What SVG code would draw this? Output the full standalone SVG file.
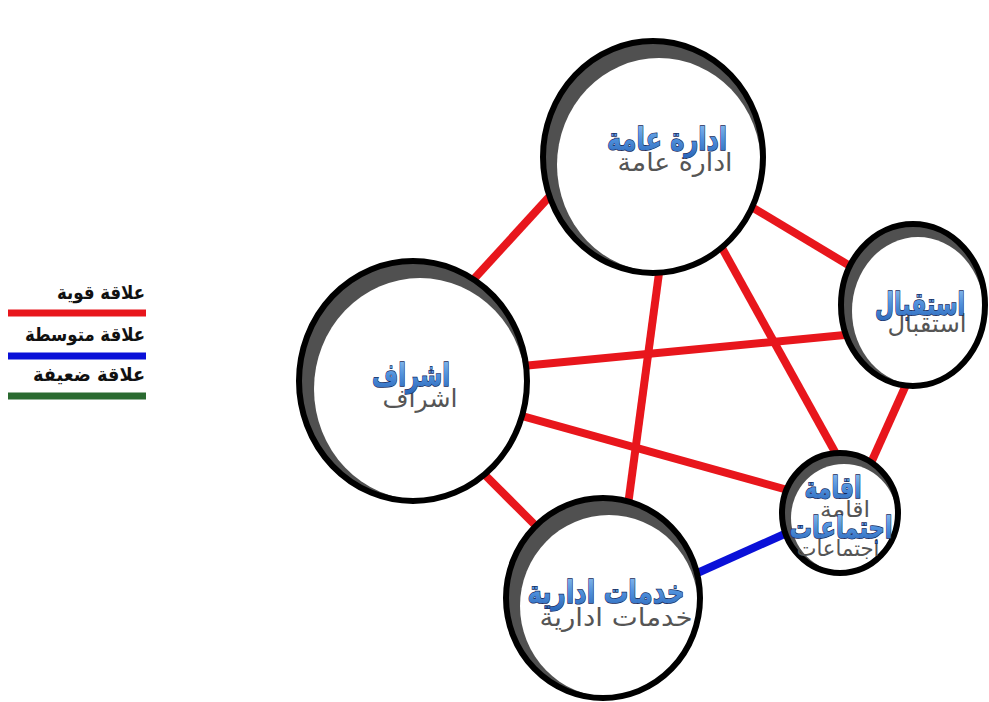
<svg xmlns="http://www.w3.org/2000/svg" width="989" height="702" viewBox="0 0 989 702">
  <defs>
    <linearGradient id="blueText" x1="0" y1="0" x2="0" y2="1">
      <stop offset="0" stop-color="#8fc0f0"/>
      <stop offset="0.5" stop-color="#4f90dc"/>
      <stop offset="1" stop-color="#2a66b8"/>
    </linearGradient>
  </defs>
  <style>
    .bg { fill: #ffffff; }
    .crescent { fill: #505050; }
    .face { fill: #ffffff; }
    .ring { fill: none; stroke: #000000; stroke-width: 6; }
    .strong { stroke: #e8161c; stroke-width: 8; stroke-linecap: butt; }
    .medium { stroke: #0a10d8; stroke-width: 8; stroke-linecap: butt; }
    .label { font-family: "DejaVu Sans", sans-serif; font-weight: bold; fill: url(#blueText); stroke: #14285a; stroke-width: 1.4; paint-order: stroke; text-anchor: middle; }
    .shadow { font-family: "DejaVu Sans", sans-serif; font-weight: normal; fill: #555555; text-anchor: middle; }
    .legend { font-family: "DejaVu Sans", sans-serif; font-weight: bold; font-size: 19px; fill: #111111; text-anchor: end; }
  </style>
  <rect class="bg" x="0" y="0" width="989" height="702"/>

  <g id="legend">
    <text class="legend" x="145" y="299" textLength="88" lengthAdjust="spacingAndGlyphs">علاقة قوية</text>
    <rect x="8" y="309.500" width="138" height="7" fill="#e8161c"/>
    <text class="legend" x="145" y="341" textLength="120" lengthAdjust="spacingAndGlyphs">علاقة متوسطة</text>
    <rect x="8" y="352.500" width="138" height="7" fill="#0a10d8"/>
    <text class="legend" x="145" y="381" textLength="112" lengthAdjust="spacingAndGlyphs">علاقة ضعيفة</text>
    <rect x="8" y="392.500" width="138" height="7" fill="#2a6a30"/>
  </g>

  <g id="connectors">
    <line class="strong" x1="560" y1="185" x2="462" y2="292"/>
    <line class="strong" x1="750" y1="206" x2="860" y2="272"/>
    <line class="strong" x1="661" y1="258" x2="626" y2="520"/>
    <line class="strong" x1="722" y1="248" x2="845" y2="470"/>
    <line class="strong" x1="512" y1="367" x2="855" y2="334"/>
    <line class="strong" x1="910" y1="376" x2="866" y2="474"/>
    <line class="strong" x1="508" y1="412" x2="802" y2="494"/>
    <line class="strong" x1="472" y1="462" x2="552" y2="542"/>
    <line class="medium" x1="684" y1="579" x2="798" y2="528"/>
  </g>

  <g id="node-idara-amma">
    <ellipse class="crescent" cx="653" cy="157" rx="110" ry="116"/>
    <ellipse class="face" cx="659" cy="165" rx="102" ry="107"/>
    <ellipse class="ring" cx="653" cy="157" rx="110" ry="116"/>
    <text class="shadow" x="675" y="171" font-size="25" textLength="115" lengthAdjust="spacingAndGlyphs">ادارة عامة</text>
    <text class="label" x="667" y="150" font-size="32" textLength="120" lengthAdjust="spacingAndGlyphs">ادارة عامة</text>
  </g>

  <g id="node-istiqbal">
    <ellipse class="crescent" cx="913" cy="305" rx="72" ry="81"/>
    <ellipse class="face" cx="918" cy="311" rx="66" ry="74"/>
    <ellipse class="ring" cx="913" cy="305" rx="72" ry="81"/>
    <text class="shadow" x="927" y="332" font-size="25" textLength="79" lengthAdjust="spacingAndGlyphs">استقبال</text>
    <text class="label" x="920" y="315" font-size="32" textLength="90" lengthAdjust="spacingAndGlyphs">استقبال</text>
  </g>

  <g id="node-ishraf">
    <ellipse class="crescent" cx="413" cy="381" rx="114" ry="120"/>
    <ellipse class="face" cx="420" cy="389" rx="106" ry="111"/>
    <ellipse class="ring" cx="413" cy="381" rx="114" ry="120"/>
    <text class="shadow" x="420" y="407" font-size="25" textLength="75" lengthAdjust="spacingAndGlyphs">اشراف</text>
    <text class="label" x="411" y="386" font-size="32" textLength="78" lengthAdjust="spacingAndGlyphs">اشراف</text>
  </g>

  <g id="node-iqamat-ijtimaat">
    <ellipse class="crescent" cx="840" cy="513" rx="58" ry="60"/>
    <ellipse class="face" cx="844" cy="518" rx="53" ry="54"/>
    <ellipse class="ring" cx="840" cy="513" rx="58" ry="60"/>
    <text class="shadow" x="845" y="517" font-size="22" textLength="50" lengthAdjust="spacingAndGlyphs">اقامة</text>
    <text class="shadow" x="838" y="556" font-size="22" textLength="83" lengthAdjust="spacingAndGlyphs">اجتماعات</text>
    <text class="label" x="833" y="498" font-size="30" textLength="57" lengthAdjust="spacingAndGlyphs">اقامة</text>
    <text class="label" x="841" y="538" font-size="30" textLength="103" lengthAdjust="spacingAndGlyphs">اجتماعات</text>
  </g>

  <g id="node-khadamat-idariya">
    <ellipse class="crescent" cx="603" cy="598" rx="97" ry="100"/>
    <ellipse class="face" cx="609" cy="606" rx="89" ry="91"/>
    <ellipse class="ring" cx="603" cy="598" rx="97" ry="100"/>
    <text class="shadow" x="616" y="626" font-size="25" textLength="153" lengthAdjust="spacingAndGlyphs">خدمات ادارية</text>
    <text class="label" x="606" y="603" font-size="32" textLength="157" lengthAdjust="spacingAndGlyphs">خدمات ادارية</text>
  </g>
</svg>
